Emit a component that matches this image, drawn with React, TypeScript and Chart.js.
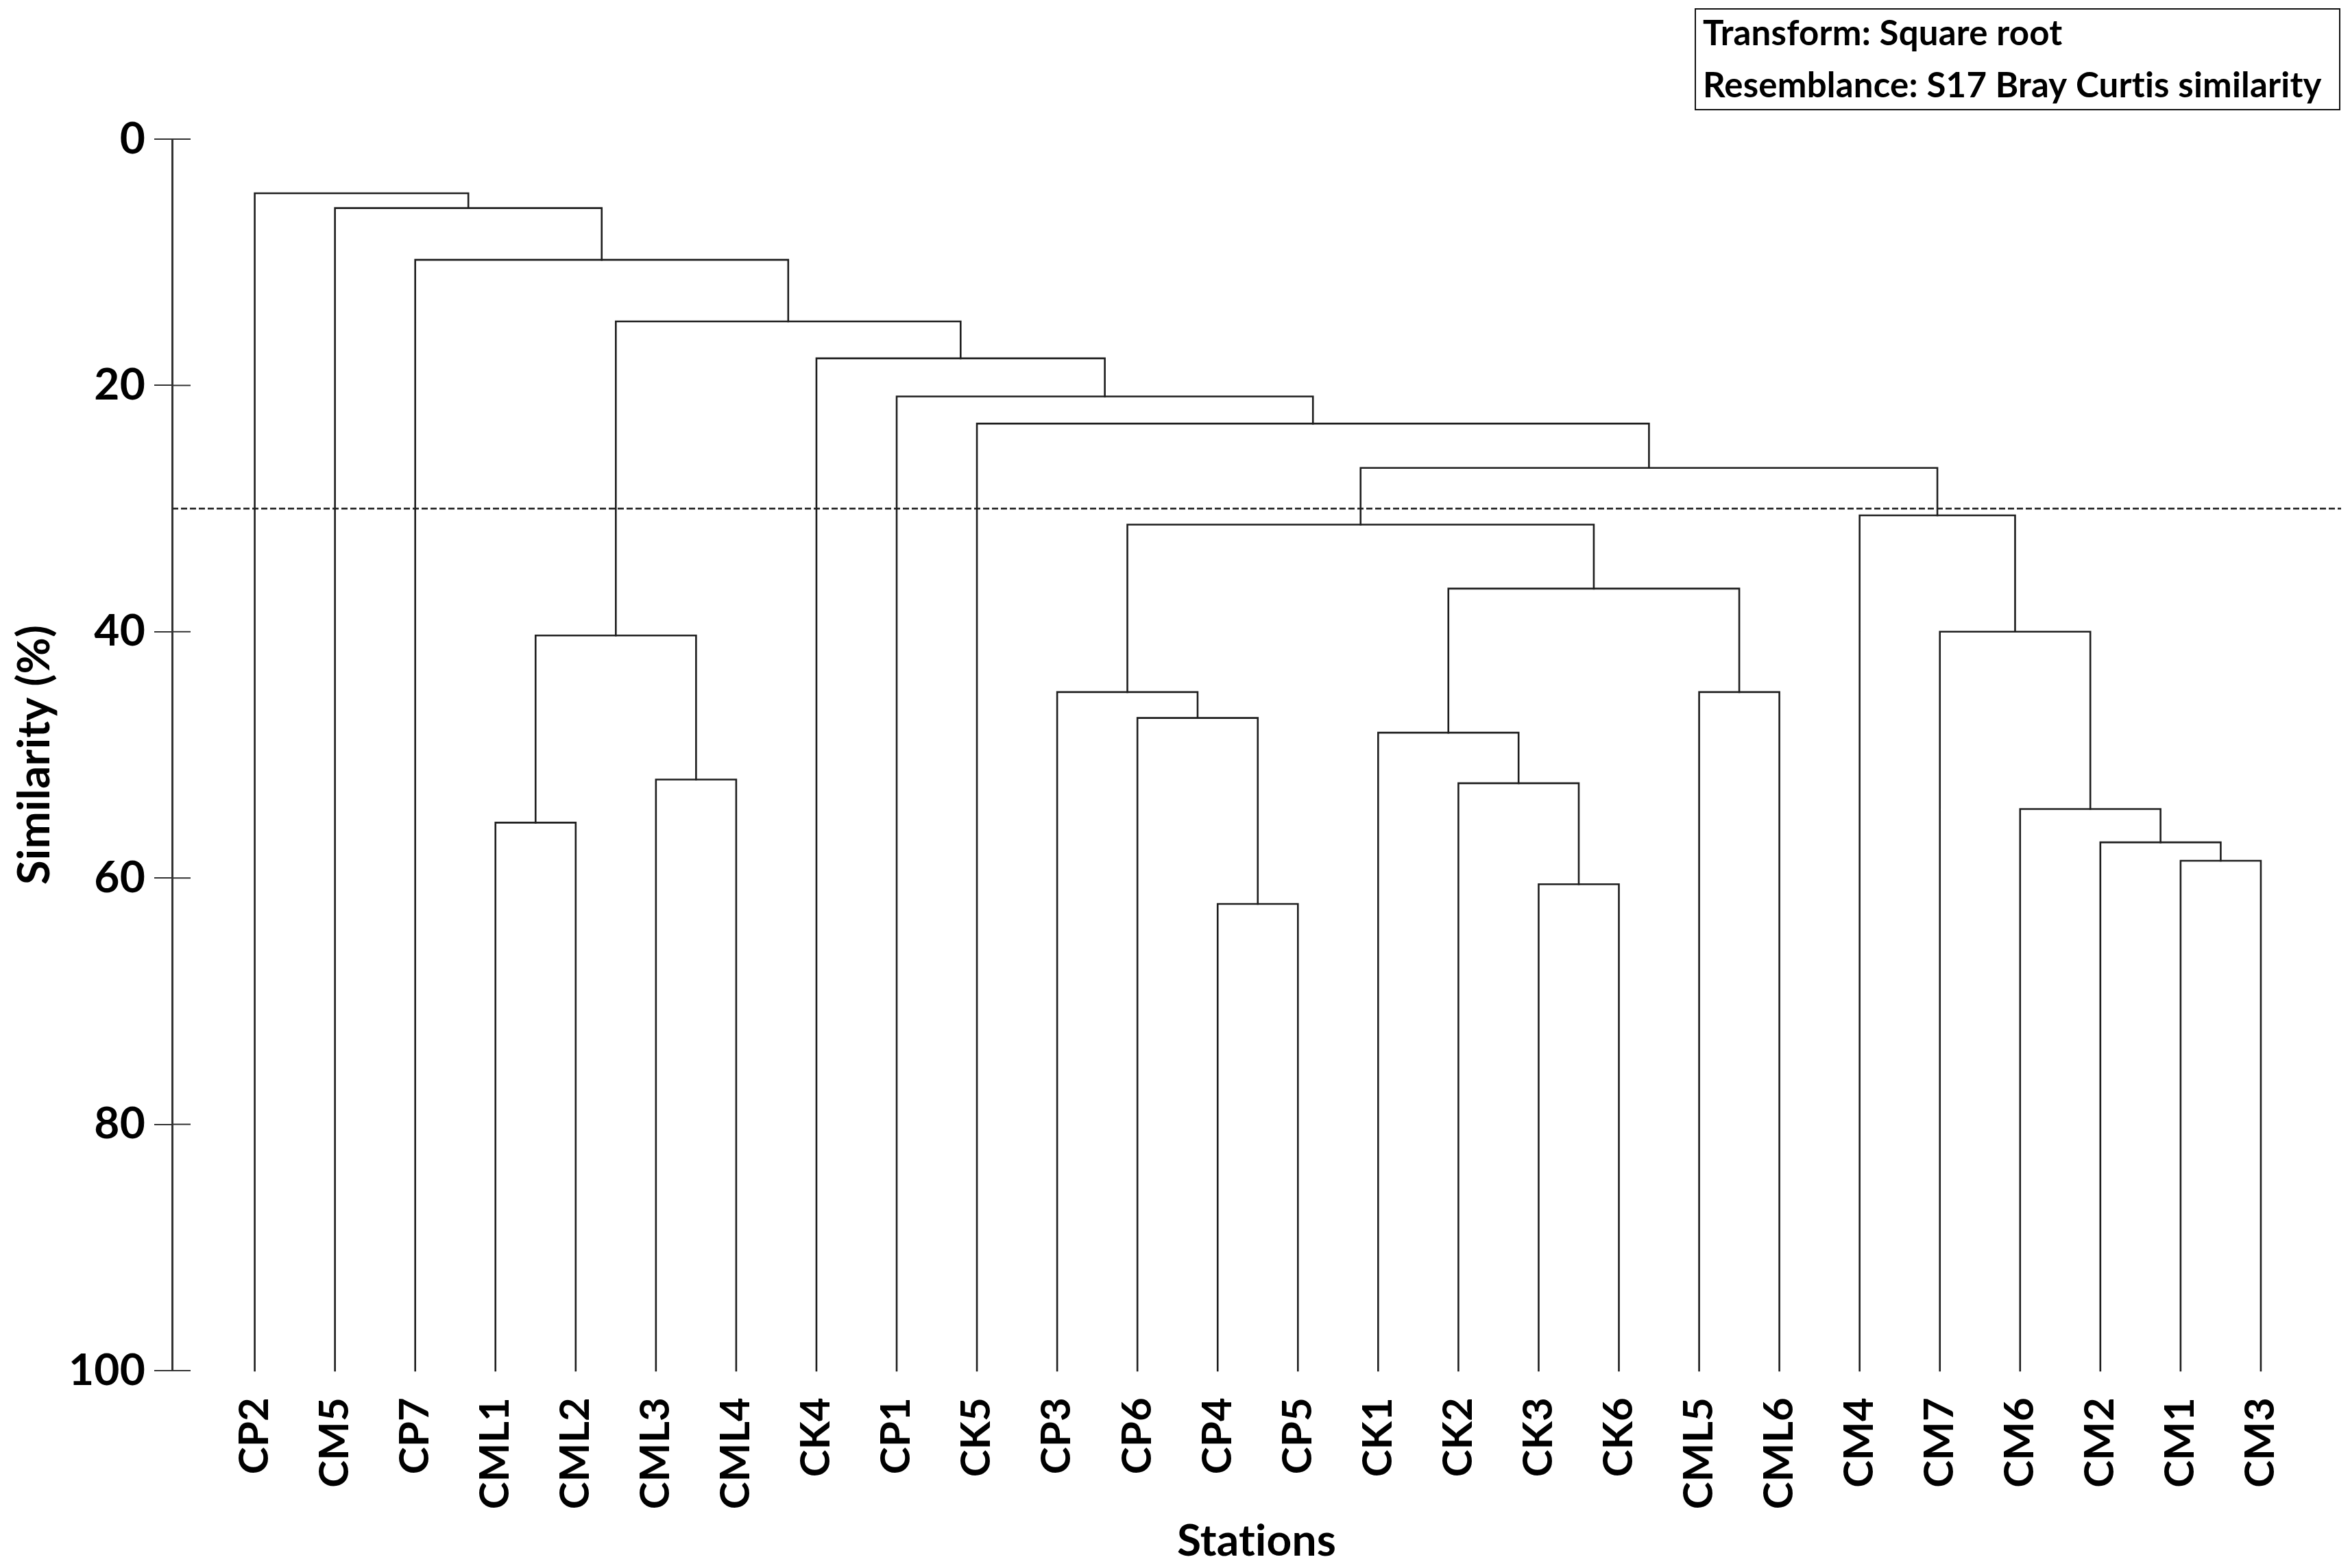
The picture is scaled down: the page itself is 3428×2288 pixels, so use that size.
import React, { useEffect, useRef } from "react";
import { Chart, registerables } from "chart.js";

Chart.register(...registerables);

// ---------- data ----------
const stations = [
  "CP2", "CM5", "CP7", "CML1", "CML2", "CML3", "CML4", "CK4", "CP1", "CK5",
  "CP3", "CP6", "CP4", "CP5", "CK1", "CK2", "CK3", "CK6", "CML5", "CML6",
  "CM4", "CM7", "CM6", "CM2", "CM1", "CM3",
];

// Node ids: 0..25 are stations, 26.. are merges in the order below.
const mergeLeft = [12, 16, 24, 23, 3, 22, 15, 5, 14, 11, 10, 18, 30, 21, 34, 36, 20, 41, 9, 8, 7, 38, 2, 1, 0];
const mergeRight = [13, 17, 25, 28, 4, 29, 27, 6, 32, 26, 35, 19, 33, 31, 37, 40, 39, 42, 43, 44, 45, 46, 47, 48, 49];
const mergeSimilarity = [62.1, 60.5, 58.6, 57.1, 55.5, 54.4, 52.3, 52.0, 48.2, 47.0, 44.9, 44.9, 40.3, 40.0, 36.5, 31.3, 30.55, 26.7, 23.1, 20.9, 17.8, 14.8, 9.8, 5.6, 4.4];

const leafSimilarity = 100;
const cutOffSimilarity = 30;
const yTicks = [0, 20, 40, 60, 80, 100];
const noteLines = ["Transform: Square root", "Resemblance: S17 Bray Curtis similarity"];

// ---------- style ----------
const LINE = "#1e1e1e";
const FONT = "Lato";
const X_MIN = -1.03;
const X_MAX = 26.0;

function buildDatasets() {
  const n = stations.length;
  const nodeX: number[] = stations.map((_, i) => i);
  const nodeY: number[] = stations.map(() => leafSimilarity);
  const sets: any[] = [];
  mergeLeft.forEach((l, k) => {
    const r = mergeRight[k];
    const h = mergeSimilarity[k];
    sets.push({
      label: "merge" + k,
      data: [
        { x: nodeX[l], y: nodeY[l] },
        { x: nodeX[l], y: h },
        { x: nodeX[r], y: h },
        { x: nodeX[r], y: nodeY[r] },
      ],
      borderColor: LINE,
      borderWidth: 2.6,
      pointRadius: 0,
      tension: 0,
      fill: false,
      clip: false,
      borderCapStyle: "square",
      borderJoinStyle: "miter",
    });
    nodeX[n + k] = (nodeX[l] + nodeX[r]) / 2;
    nodeY[n + k] = h;
  });
  sets.push({
    label: "cut-off",
    data: [
      { x: X_MIN, y: cutOffSimilarity },
      { x: X_MAX, y: cutOffSimilarity },
    ],
    borderColor: "#2a2a2a",
    borderWidth: 2.6,
    borderDash: [9, 4],
    pointRadius: 0,
    fill: false,
    clip: false,
  });
  return sets;
}

const decorPlugin = {
  id: "decor",
  beforeDraw(chart: any) {
    // a tiny letter spacing keeps "ti" from turning into a ligature
    (chart.ctx as any).letterSpacing = "0.2px";
  },
  afterDraw(chart: any) {
    const ctx = chart.ctx;
    const ys = chart.scales.y;
    const left = chart.chartArea.left;
    ctx.save();
    ctx.strokeStyle = "#333";
    ctx.lineWidth = 2;
    ys.ticks.forEach((t: any) => {
      const py = ys.getPixelForValue(t.value);
      ctx.beginPath();
      ctx.moveTo(left, py);
      ctx.lineTo(left + 27, py);
      ctx.stroke();
    });
    // note box
    ctx.strokeStyle = "#111";
    ctx.lineWidth = 2;
    ctx.strokeRect(2473, 13, 940, 147);
    ctx.fillStyle = "#000";
    ctx.font = `bold 51px ${FONT}`;
    ctx.textAlign = "left";
    ctx.textBaseline = "middle";
    ctx.fillText(noteLines[0], 2484, 50);
    ctx.fillText(noteLines[1], 2484, 126);
    ctx.restore();
  },
};

export default function App() {
  const ref = useRef<HTMLCanvasElement | null>(null);
  useEffect(() => {
    if (!ref.current) return;
    const chart = new Chart(ref.current, {
      type: "line",
      data: { datasets: buildDatasets() },
      options: {
        animation: false,
        responsive: true,
        maintainAspectRatio: false,
        layout: { padding: { top: 203, right: 13, left: 0, bottom: 0 } },
        plugins: {
          legend: { display: false },
          tooltip: { enabled: false },
        },
        scales: {
          x: {
            type: "linear",
            min: X_MIN,
            max: X_MAX,
            afterBuildTicks: (axis: any) => {
              axis.ticks = stations.map((_, i) => ({ value: i }));
            },
            afterFit: (scale: any) => {
              scale.height = 288;
            },
            grid: { display: false },
            border: { display: false },
            ticks: {
              autoSkip: false,
              minRotation: 90,
              maxRotation: 90,
              padding: 31,
              color: "#000",
              font: { family: FONT, weight: "bold", size: 60 },
              callback: (v: any) => stations[v] ?? "",
            },
            title: {
              display: true,
              text: "Stations",
              color: "#000",
              font: { family: FONT, weight: "bold", size: 64 },
              padding: { top: 0, bottom: 0 },
            },
          },
          y: {
            type: "linear",
            reverse: true,
            min: 0,
            max: 100,
            afterBuildTicks: (axis: any) => {
              axis.ticks = yTicks.map((v) => ({ value: v }));
            },
            afterFit: (scale: any) => {
              scale.width = 251;
            },
            grid: {
              display: true,
              drawOnChartArea: false,
              drawTicks: true,
              tickLength: 26,
              lineWidth: 2,
              color: "#333",
            },
            border: { display: true, color: "#333", width: 3 },
            ticks: {
              padding: 13,
              color: "#000",
              font: { family: FONT, weight: "bold", size: 64 },
            },
            title: {
              display: true,
              text: "Similarity (%)",
              color: "#000",
              font: { family: FONT, weight: "bold", size: 65 },
              padding: { top: 12, bottom: 0 },
            },
          },
        },
      } as any,
      plugins: [decorPlugin],
    });
    return () => chart.destroy();
  }, []);

  return (
    <div style={{ position: "fixed", left: 0, top: 0, width: 3428, height: 2288, background: "#fff" }}>
      <canvas ref={ref} />
    </div>
  );
}
